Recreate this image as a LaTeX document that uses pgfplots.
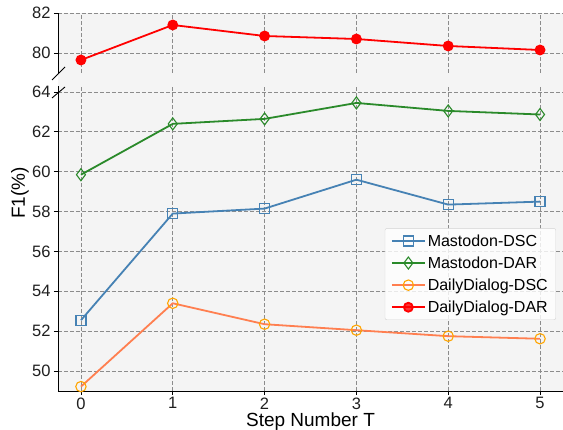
\documentclass[border=0pt]{standalone}
\usepackage{pgfplots}
\pgfplotsset{compat=1.18}
\usepackage{fontspec}
\setmainfont{Liberation Sans}
\definecolor{mblue}{HTML}{4682B4}
\definecolor{mgreen}{HTML}{2A8A2A}
\definecolor{dcoral}{HTML}{FF7F50}
\definecolor{dorange}{HTML}{FFA500}
\definecolor{dred}{HTML}{FF0000}
\definecolor{bgcol}{HTML}{F4F4F4}
\definecolor{gridcol}{HTML}{8C8C8C}
\pgfplotsset{
  common/.style={
    scale only axis, width=505pt, clip=false,
    xmin=-0.25, xmax=5.25, xtick={0,...,5},
    axis line style={-, black, line width=0.9pt},
    tick align=outside, major tick length=4pt,
    tick style={black, line width=0.8pt},
    grid=major,
    grid style={gridcol, dash pattern=on 4pt off 2pt, line width=0.8pt},
    /pgf/number format/assume math mode=true,
    tick label style={font=\fontsize{16.5}{19}\selectfont, text=black!88},
    xticklabel style={yshift=1pt},
    axis y line*=left,
  },
  every axis plot/.append style={line width=1.8pt},
}
\begin{document}
\begin{tikzpicture}
\useasboundingbox (-58pt,-39pt) rectangle (505pt,391pt);
\fill[bgcol] (0,0) rectangle (505pt,378pt);
\begin{axis}[common, name=bot, at={(0,0)}, anchor=south west,
  height=305pt, ymin=49, ymax=64.3, ytick={50,52,...,64},
  axis x line*=bottom,
  xlabel={Step Number T},
  every axis x label/.style={at={(axis description cs:0.5,0)}, yshift=-31pt, anchor=center, font=\fontsize{19}{22}\selectfont},
  legend cell align=left,
  legend style={at={(1,0)}, anchor=south east, xshift=-7pt, yshift=71pt,
    draw=gray!35, rounded corners=2pt, fill=white, fill opacity=0.8, text opacity=1,
    font=\fontsize{16}{19}\selectfont, row sep=5pt, inner xsep=6pt, inner ysep=4pt},
  legend image code/.code={\draw[mark repeat=2,mark phase=2] plot coordinates {(0cm,0cm)(0.58cm,0cm)(1.16cm,0cm)};},
]
\addplot[mblue, mark=square, mark size=5pt, mark options={fill=white, line width=1.1pt}]
  coordinates {(0,52.55) (1,57.9) (2,58.15) (3,59.6) (4,58.35) (5,58.5)};
\addlegendentry{Mastodon-DSC}
\addplot[mgreen, mark=diamond, mark size=6pt, mark options={fill=white, line width=1.1pt}]
  coordinates {(0,59.85) (1,62.4) (2,62.65) (3,63.45) (4,63.05) (5,62.87)};
\addlegendentry{Mastodon-DAR}
\addplot[dcoral, mark=o, mark size=5.2pt, mark options={draw=dorange, fill=white, line width=1.1pt}]
  coordinates {(0,49.22) (1,53.4) (2,52.35) (3,52.05) (4,51.75) (5,51.62)};
\addlegendentry{DailyDialog-DSC}
\addlegendimage{dred, line width=1.8pt, mark=*, mark size=4.5pt, mark options={fill=dred}}
\addlegendentry{DailyDialog-DAR}
\end{axis}
\begin{axis}[common, name=top, at={(0,318pt)}, anchor=south west,
  height=60pt, ymin=79, ymax=82, ytick={80,82},
  axis x line*=bottom, x axis line style={draw=none},
  xticklabels={}, xtick style={draw=none},
]
\addplot[dred, mark=*, mark size=4.5pt, mark options={fill=dred}]
  coordinates {(0,79.65) (1,81.4) (2,80.85) (3,80.7) (4,80.35) (5,80.15)};
\end{axis}
\draw[black, line width=0.9pt] (-6pt,311pt) -- (7pt,324pt);
\draw[black, line width=0.9pt] (-6pt,293pt) -- (7pt,304pt);
\node[rotate=90, font=\fontsize{19}{22}\selectfont] at (-38pt,198pt) {F1(\%)};
\end{tikzpicture}
\end{document}
